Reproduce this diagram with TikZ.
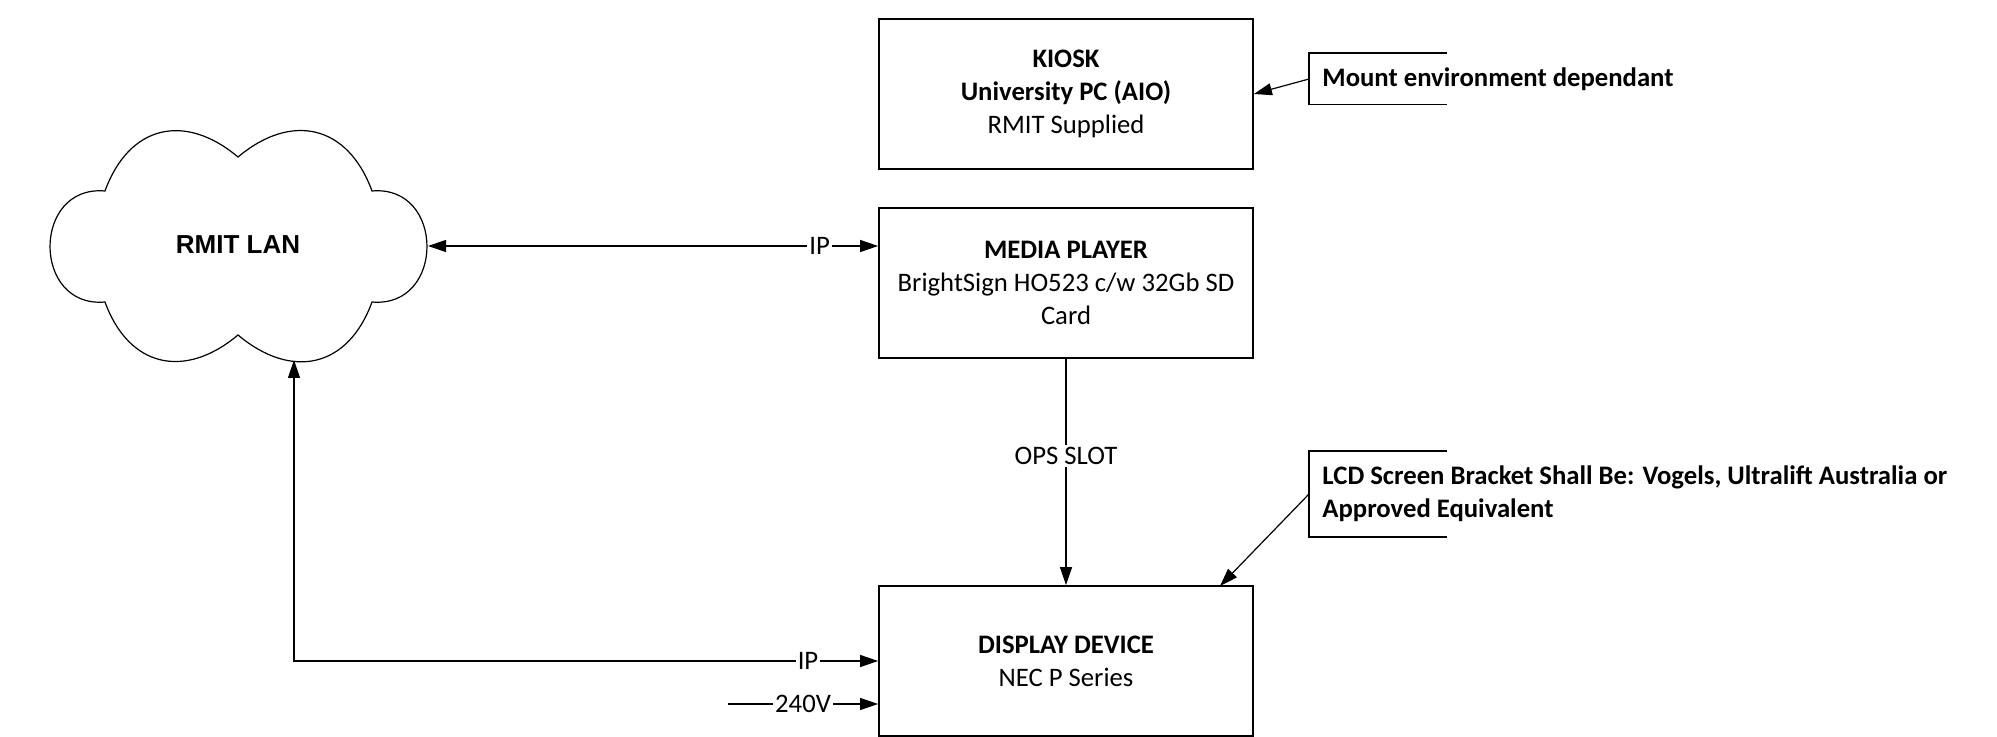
\documentclass[tikz,border=0pt]{standalone}
\usepackage{fontspec}
\setmainfont{Carlito}
\newfontfamily\arialfont{Liberation Sans}
\usetikzlibrary{arrows.meta}

\begin{document}
\begin{tikzpicture}[x=0.5pt,y=0.5pt,
    >={Triangle[length=9pt,width=6pt]},
    box/.style={draw,line width=0.9pt,minimum width=187pt,minimum height=75pt,align=center,
      font=\fontsize{13.35}{16.5}\selectfont},
    note/.style={anchor=west,align=left,inner xsep=6.5pt,inner ysep=0pt,
      font=\bfseries\fontsize{13.35}{16.5}\selectfont},
    lbl/.style={fill=white,inner sep=1pt,font=\fontsize{13.35}{16.5}\selectfont}]
  \useasboundingbox (0,0) rectangle (1997,-737);
  \draw[line width=0.6pt]
    (105,-191) to[out=70,in=140,looseness=1.3] (238,-157)
    to[out=40,in=110,looseness=1.3] (372,-191)
    to[out=5,in=-5,looseness=1.7] (372,-302)
    to[out=-110,in=-40,looseness=1.3] (238,-335)
    to[out=-140,in=-70,looseness=1.3] (105,-302)
    to[out=185,in=175,looseness=1.7] (105,-191) -- cycle;
  \node[font=\arialfont\bfseries\fontsize{13}{15.6}\selectfont] (lan) at (238,-245) {RMIT LAN};
  \coordinate (lanR) at (428,-246);
  \coordinate (lanB) at (294,-360);
  \node[box] (kiosk) at (1066,-94) {\textbf{KIOSK}\\\textbf{University PC (AIO)}\\RMIT Supplied};
  \node[box] (media) at (1066,-283) {\textbf{MEDIA PLAYER}\\BrightSign HO523 c/w 32Gb SD\\Card};
  \node[box] (display) at (1066,-661) {\textbf{DISPLAY DEVICE}\\NEC P Series};
  \node[note,minimum height=25.5pt] (mount) at (1309,-79) {Mount environment dependant};
  \node[note,minimum height=42.5pt] (lcd) at (1309,-494)
    {LCD Screen Bracket Shall Be: Vogels, Ultralift Australia or\\Approved Equivalent};
  \coordinate (lcdend) at (1220,-586);
  \coordinate (mains) at (728,-704);
  \begin{scope}[line width=0.6pt]
    \draw ([xshift=69pt]mount.north west) -- (mount.north west) -- (mount.south west) -- ++(138,0);
    \draw ([xshift=69pt]lcd.north west) -- (lcd.north west) -- (lcd.south west) -- ++(138,0);
    \draw[<->] (lanR) -- node[lbl,pos=0.87]{IP} (media.west |- lanR);
    \draw[->] (media) -- node[lbl,pos=0.43]{OPS SLOT} (display);
    \draw[<->] (lanB) |- node[lbl,pos=0.94]{IP} (display.west);
    \draw[->] (mains) -- node[lbl]{240V} (display.west |- mains);
    \draw[->] (mount.west) -- (kiosk.east);
    \draw[->] (lcd.west) -- (lcdend);
  \end{scope}
\end{tikzpicture}
\end{document}
